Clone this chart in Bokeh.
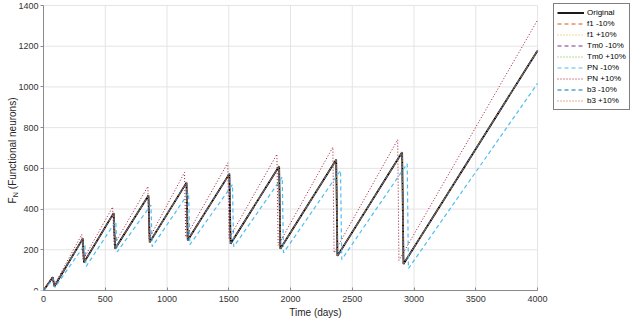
import math
from bokeh.plotting import figure
from bokeh.models import Legend, LegendItem, Label, Range1d, FixedTicker
from bokeh.embed import file_html
from bokeh.resources import INLINE

# ---- data ----
orig_t = [0, 75, 88, 318, 328, 568, 580, 850, 860, 1158, 1168, 1505, 1515,
          1908, 1918, 2370, 2380, 2904, 2915, 4000]
orig_v = [0, 65, 20, 255, 138, 380, 205, 467, 237, 530, 247, 573, 230,
          610, 205, 642, 170, 679, 130, 1178]

f1_minus_t = [0, 75, 88, 318, 328, 568, 580, 850, 860, 1158, 1168, 1505, 1515,
              1908, 1918, 2370, 2380, 2904, 2915, 4000]
f1_minus_v = [0, 65, 20, 255, 138, 380, 205, 467, 237, 530, 247, 573, 230,
              610, 205, 642, 170, 679, 130, 1178]
f1_plus_t = f1_minus_t
f1_plus_v = f1_minus_v
tm0_minus_t = f1_minus_t
tm0_minus_v = f1_minus_v
tm0_plus_t = f1_minus_t
tm0_plus_v = f1_minus_v

pn_minus_t = [0, 80, 92, 335, 345, 585, 597, 870, 880, 1175, 1185, 1530, 1540,
              1933, 1943, 2405, 2415, 2945, 2955, 4000]
pn_minus_v = [0, 58, 15, 225, 118, 340, 190, 420, 215, 480, 225, 520, 215,
              557, 185, 590, 152, 623, 108, 1017]

pn_plus_t = [0, 72, 85, 310, 320, 560, 572, 845, 855, 1142, 1152, 1492, 1502,
             1890, 1900, 2343, 2353, 2868, 2878, 4000]
pn_plus_v = [0, 70, 25, 275, 150, 410, 225, 511, 255, 580, 262, 627, 255,
             669, 222, 704, 185, 741, 148, 1328]

b3_minus_t = f1_minus_t
b3_minus_v = f1_minus_v
b3_plus_t = f1_minus_t
b3_plus_v = f1_minus_v

x_ticks = [0, 500, 1000, 1500, 2000, 2500, 3000, 3500, 4000]
y_ticks = [0, 200, 400, 600, 800, 1000, 1200, 1400]

series = [
    ("Original", orig_t, orig_v, "#000000", "solid", 1.8),
    ("f1 -10%", f1_minus_t, f1_minus_v, "#D95319", "4 3", 1.0),
    ("f1 +10%", f1_plus_t, f1_plus_v, "#EDB120", "1 2", 1.0),
    ("Tm0 -10%", tm0_minus_t, tm0_minus_v, "#7E2F8E", "4 3", 1.0),
    ("Tm0 +10%", tm0_plus_t, tm0_plus_v, "#77AC30", "1 2", 1.0),
    ("PN -10%", pn_minus_t, pn_minus_v, "#4DBEEE", "4 3", 1.2),
    ("PN +10%", pn_plus_t, pn_plus_v, "#A2142F", "1 2", 1.0),
    ("b3 -10%", b3_minus_t, b3_minus_v, "#0072BD", "4 3", 1.0),
    ("b3 +10%", b3_plus_t, b3_plus_v, "#D95319", "1 2", 1.0),
]

FONT = "Liberation Sans"
GRID = "#e4e4e4"

# frame spans the whole canvas above the x axis; the data box occupies
# px 43..537 horizontally and px 5..290 vertically
W, H = 630, 321
AX_L, AX_R, AX_T, AX_B = 43, 537, 5, 290
x_lo, x_hi = x_ticks[0], x_ticks[-1]
y_lo, y_hi = y_ticks[0], y_ticks[-1]
xpp = (x_hi - x_lo) / (AX_R - AX_L)
ypp = (y_hi - y_lo) / (AX_B - AX_T)

p = figure(width=W, height=H, output_backend="svg", toolbar_location=None,
           x_range=Range1d(x_lo - AX_L * xpp, x_hi + (W - AX_R) * xpp),
           y_range=Range1d(y_lo, y_hi + AX_T * ypp),
           min_border_left=0, min_border_right=0, min_border_top=0,
           min_border_bottom=H - AX_B)
p.outline_line_color = None
p.background_fill_color = "white"
p.border_fill_color = "white"

# grid lines limited to the data box
p.xgrid.visible = False
p.ygrid.visible = False
p.segment(x0=[x_lo] * len(y_ticks), y0=y_ticks, x1=[x_hi] * len(y_ticks),
          y1=y_ticks, line_color=GRID, line_width=1)
p.segment(x0=x_ticks, y0=[y_lo] * len(x_ticks), x1=x_ticks,
          y1=[y_hi] * len(x_ticks), line_color=GRID, line_width=1)

items = []
for name, t, v, col, dash, w in series:
    r = p.line(t, v, line_color=col, line_dash=dash, line_width=w)
    items.append(LegendItem(label=name, renderers=[r]))

p.xaxis.ticker = FixedTicker(ticks=x_ticks)
p.yaxis.ticker = FixedTicker(ticks=y_ticks)
p.xaxis.bounds = (x_lo, x_hi)
p.yaxis.bounds = (y_lo, y_hi)
p.yaxis.fixed_location = x_lo
p.xaxis.minor_tick_line_color = None
p.yaxis.minor_tick_line_color = None
for ax in (p.xaxis, p.yaxis):
    ax.axis_line_color = "#8a8a8a"
    ax.major_tick_line_color = "#8a8a8a"
    ax.major_label_text_font = FONT
    ax.major_label_text_font_size = "9px"
    ax.major_label_text_color = "#333333"
    ax.axis_label_text_font = FONT
    ax.axis_label_text_font_style = "normal"
    ax.axis_label_text_font_size = "10px"
    ax.axis_label_text_color = "#262626"

p.xaxis.major_tick_in = 3
p.xaxis.major_tick_out = 0
p.xaxis.major_label_standoff = 5
p.xaxis.axis_label = "Time (days)"
p.xaxis.axis_label_standoff = 2

p.yaxis.major_tick_in = 0
p.yaxis.major_tick_out = 3
p.yaxis.major_label_standoff = 2

# y axis label with subscript (frame-relative screen units)
lab_kw = dict(x_units="screen", y_units="screen", angle=math.pi / 2,
              text_font=FONT, text_color="#262626", text_align="left",
              text_baseline="alphabetic")
p.add_layout(Label(x=12, y=87, text="F", text_font_size="10px", **lab_kw))
p.add_layout(Label(x=14.5, y=93.3, text="N", text_font_size="7px", **lab_kw))
p.add_layout(Label(x=12, y=101.3, text="(Functional neurons)",
                   text_font_size="10px", **lab_kw))

legend = Legend(items=items, location=(553, 180))
legend.label_text_font = FONT
legend.label_text_font_size = "8px"
legend.label_text_color = "#000000"
legend.glyph_width = 27
legend.glyph_height = 11
legend.label_height = 11
legend.spacing = 0
legend.padding = 3
legend.margin = 0
legend.label_standoff = 3
legend.border_line_color = "#000000"
legend.border_line_width = 1
legend.background_fill_color = "white"
legend.background_fill_alpha = 1.0
p.add_layout(legend, "center")

open("out.html", "w").write(file_html(p, INLINE))
